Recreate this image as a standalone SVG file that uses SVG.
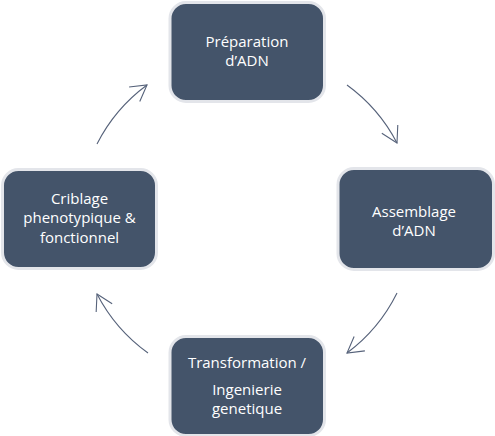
<svg xmlns="http://www.w3.org/2000/svg" width="495" height="436" viewBox="0 0 495 436">
<style>
.box{fill:#44546a;stroke:#e3e5ea;stroke-width:3}
.lbl{font-family:"Open Sans","Liberation Sans",sans-serif;font-size:15px;fill:#ffffff;text-anchor:middle}
.arc{fill:none;stroke:#56627a;stroke-width:1.1}
</style>
<defs>
<marker id="ah" markerUnits="userSpaceOnUse" markerWidth="40" markerHeight="40" refX="20" refY="20" orient="auto" viewBox="0 0 40 40">
<path d="M4.4,11 L20,20 L4.4,29" fill="none" stroke="#56627a" stroke-width="1.1"/>
</marker>
</defs>
<rect width="495" height="436" fill="#ffffff"/>
<g id="connectors">
<path class="arc" d="M347,85 A167,167 0 0 1 397,143" marker-end="url(#ah)"/>
<path class="arc" d="M397,293 A167,167 0 0 1 347,353" marker-end="url(#ah)"/>
<path class="arc" d="M148,353 A167,167 0 0 1 97,294" marker-end="url(#ah)"/>
<path class="arc" d="M97,144 A167,167 0 0 1 147,85" marker-end="url(#ah)"/>
</g>
<g id="node-preparation">
<rect class="box" x="170" y="2.5" width="154.5" height="99" rx="16"/>
<text class="lbl" x="247" y="47">Préparation</text>
<text class="lbl" x="247" y="66">d’ADN</text>
</g>
<g id="node-assemblage">
<rect class="box" x="338" y="168.5" width="155.5" height="101" rx="16"/>
<text class="lbl" x="414" y="217">Assemblage</text>
<text class="lbl" x="414" y="236">d’ADN</text>
</g>
<g id="node-transformation">
<rect class="box" x="170" y="336.5" width="154.5" height="99" rx="16"/>
<text class="lbl" x="247" y="368">Transformation /</text>
<text class="lbl" x="247" y="395">Ingenierie</text>
<text class="lbl" x="247" y="414">genetique</text>
</g>
<g id="node-criblage">
<rect class="box" x="2.5" y="169.5" width="154" height="99" rx="16"/>
<text class="lbl" x="79.5" y="204">Criblage</text>
<text class="lbl" x="79.5" y="223">phenotypique &amp;</text>
<text class="lbl" x="79.5" y="243">fonctionnel</text>
</g>
</svg>
